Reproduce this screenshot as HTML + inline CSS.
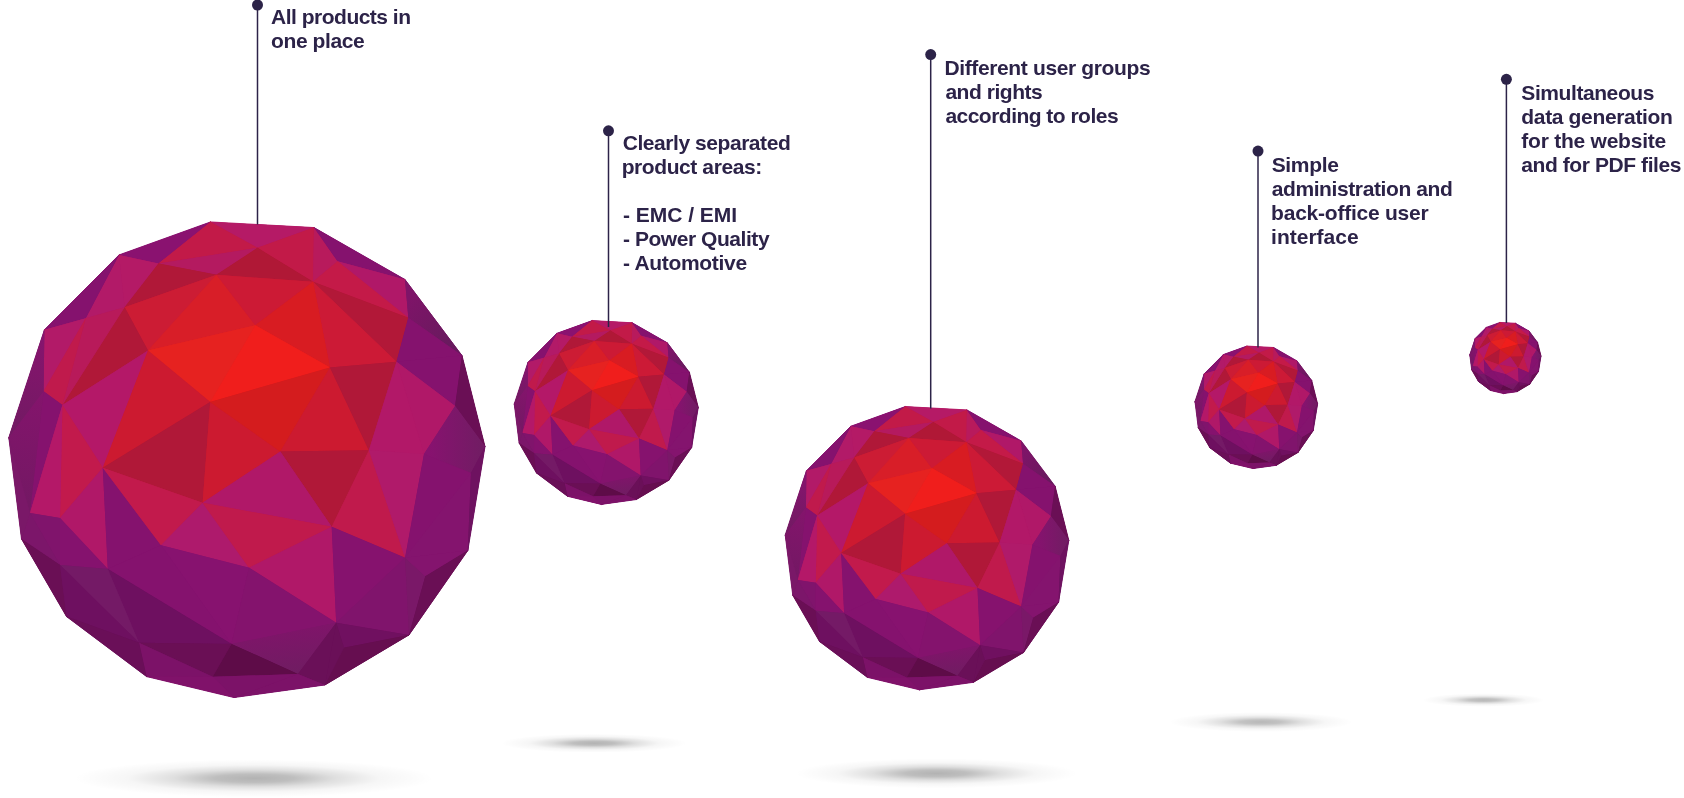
<!DOCTYPE html>
<html><head><meta charset="utf-8"><title>Features</title>
<style>
html,body{margin:0;padding:0;background:#fff;}
body{width:1684px;height:798px;overflow:hidden;position:relative;font-family:"Liberation Sans",sans-serif;}
svg{position:absolute;left:0;top:0;}
#txt{position:absolute;left:0;top:0;width:1684px;height:798px;will-change:transform;}
.t{position:absolute;color:#2c2348;font-weight:bold;font-size:21px;line-height:24px;white-space:nowrap;letter-spacing:0px;}
.t div{height:24px;}
</style></head><body>
<svg width="1684" height="798" viewBox="0 0 1684 798">
<defs>
<radialGradient id="sh" cx="0.5" cy="0.5" r="0.5">
<stop offset="0" stop-color="#000" stop-opacity="1"/>
<stop offset="0.22" stop-color="#000" stop-opacity="0.85"/>
<stop offset="0.45" stop-color="#000" stop-opacity="0.42"/>
<stop offset="0.7" stop-color="#000" stop-opacity="0.12"/>
<stop offset="1" stop-color="#000" stop-opacity="0"/>
</radialGradient>
<linearGradient id="g0" gradientUnits="userSpaceOnUse" x1="161.1" y1="-159.8" x2="208.1" y2="-119.8"><stop offset="0" stop-color="#7e1468"/><stop offset="1" stop-color="#681a5e"/></linearGradient>
<linearGradient id="g1" gradientUnits="userSpaceOnUse" x1="-202.9" y1="-124.8" x2="-231.9" y2="-19.8"><stop offset="0" stop-color="#87146e"/><stop offset="1" stop-color="#701a62"/></linearGradient>
<linearGradient id="g2" gradientUnits="userSpaceOnUse" x1="-202.9" y1="-64.8" x2="-231.9" y2="40.2"><stop offset="0" stop-color="#84146c"/><stop offset="1" stop-color="#741864"/></linearGradient>
<linearGradient id="g3" gradientUnits="userSpaceOnUse" x1="183.1" y1="-9.8" x2="233.1" y2="-9.8"><stop offset="0" stop-color="#87126f"/><stop offset="1" stop-color="#721c64"/></linearGradient>
<linearGradient id="g4" gradientUnits="userSpaceOnUse" x1="43.1" y1="165.2" x2="48.1" y2="212.2"><stop offset="0" stop-color="#80146a"/><stop offset="1" stop-color="#701c62"/></linearGradient>
<g id="ball" stroke-width="0.9" stroke-linejoin="round" vector-effect="non-scaling-stroke">
<polygon points="-36.4,-237.8 67.1,-232.2 158.1,-180.2 215.1,-104.2 238.1,-13.2 220.9,90.8 162.1,175.2 78.1,225.2 -12.9,237.8 -100.4,216.8 -180.4,156.8 -225.4,79.2 -238.1,-22.2 -202.5,-129.9 -127.9,-204.8" fill="#85126e"/>
<polygon points="-36.4,-237.8 67.1,-232.2 10.6,-211.9" fill="#b51a66" stroke="#b51a66" vector-effect="non-scaling-stroke"/>
<polygon points="-127.9,-204.8 -36.4,-237.8 -88.4,-196.2" fill="#8a1270" stroke="#8a1270" vector-effect="non-scaling-stroke"/>
<polygon points="-36.4,-237.8 10.6,-211.9 -88.4,-196.2" fill="#c21a48" stroke="#c21a48" vector-effect="non-scaling-stroke"/>
<polygon points="-88.4,-196.2 10.6,-211.9 -30.4,-184.9" fill="#b41a60" stroke="#b41a60" vector-effect="non-scaling-stroke"/>
<polygon points="10.6,-211.9 67.1,-232.2 66.1,-177.9" fill="#c21a48" stroke="#c21a48" vector-effect="non-scaling-stroke"/>
<polygon points="-30.4,-184.9 10.6,-211.9 66.1,-177.9" fill="#b01836" stroke="#b01836" vector-effect="non-scaling-stroke"/>
<polygon points="67.1,-232.2 90.7,-198.4 66.1,-177.9" fill="#b81a5c" stroke="#b81a5c" vector-effect="non-scaling-stroke"/>
<polygon points="67.1,-232.2 158.1,-180.2 90.7,-198.4" fill="#85126e" stroke="#85126e" vector-effect="non-scaling-stroke"/>
<polygon points="90.7,-198.4 158.1,-180.2 161.4,-141.9" fill="#b01868" stroke="#b01868" vector-effect="non-scaling-stroke"/>
<polygon points="90.7,-198.4 161.4,-141.9 66.1,-177.9" fill="#c41a48" stroke="#c41a48" vector-effect="non-scaling-stroke"/>
<polygon points="66.1,-177.9 161.4,-141.9 149.6,-98.1" fill="#b21838" stroke="#b21838" vector-effect="non-scaling-stroke"/>
<polygon points="66.1,-177.9 149.6,-98.1 83.1,-92.2" fill="#cc1a36" stroke="#cc1a36" vector-effect="non-scaling-stroke"/>
<polygon points="158.1,-180.2 215.1,-104.2 161.4,-141.9" fill="url(#g0)" stroke="#731763" vector-effect="non-scaling-stroke"/>
<polygon points="161.4,-141.9 215.1,-104.2 149.6,-98.1" fill="#85126e" stroke="#85126e" vector-effect="non-scaling-stroke"/>
<polygon points="149.6,-98.1 215.1,-104.2 208.2,-53.8" fill="#85126e" stroke="#85126e" vector-effect="non-scaling-stroke"/>
<polygon points="215.1,-104.2 238.1,-13.2 208.2,-53.8" fill="#6a0f55" stroke="#6a0f55" vector-effect="non-scaling-stroke"/>
<polygon points="-127.9,-204.8 -88.4,-196.2 -122.3,-152.4" fill="#b41a66" stroke="#b41a66" vector-effect="non-scaling-stroke"/>
<polygon points="-127.9,-204.8 -122.3,-152.4 -161.2,-141.6" fill="#b21a68" stroke="#b21a68" vector-effect="non-scaling-stroke"/>
<polygon points="-202.5,-129.9 -127.9,-204.8 -161.2,-141.6" fill="#85126e" stroke="#85126e" vector-effect="non-scaling-stroke"/>
<polygon points="-88.4,-196.2 -30.4,-184.9 -122.3,-152.4" fill="#b01838" stroke="#b01838" vector-effect="non-scaling-stroke"/>
<polygon points="-30.4,-184.9 -98.9,-109.2 -122.3,-152.4" fill="#cc1c34" stroke="#cc1c34" vector-effect="non-scaling-stroke"/>
<polygon points="-30.4,-184.9 8.4,-134.4 -98.9,-109.2" fill="#d81e28" stroke="#d81e28" vector-effect="non-scaling-stroke"/>
<polygon points="-30.4,-184.9 66.1,-177.9 8.4,-134.4" fill="#cc1a35" stroke="#cc1a35" vector-effect="non-scaling-stroke"/>
<polygon points="66.1,-177.9 83.1,-92.2 8.4,-134.4" fill="#d81c22" stroke="#d81c22" vector-effect="non-scaling-stroke"/>
<polygon points="8.4,-134.4 83.1,-92.2 -36.7,-57.8" fill="#f01e1c" stroke="#f01e1c" vector-effect="non-scaling-stroke"/>
<polygon points="-98.9,-109.2 8.4,-134.4 -36.7,-57.8" fill="#e62220" stroke="#e62220" vector-effect="non-scaling-stroke"/>
<polygon points="-122.3,-152.4 -98.9,-109.2 -184.5,-54.8" fill="#b01838" stroke="#b01838" vector-effect="non-scaling-stroke"/>
<polygon points="-161.2,-141.6 -122.3,-152.4 -184.5,-54.8" fill="#b81a5a" stroke="#b81a5a" vector-effect="non-scaling-stroke"/>
<polygon points="-202.5,-129.9 -161.2,-141.6 -203.3,-68.4" fill="#b21a68" stroke="#b21a68" vector-effect="non-scaling-stroke"/>
<polygon points="-161.2,-141.6 -184.5,-54.8 -203.3,-68.4" fill="#c01a4c" stroke="#c01a4c" vector-effect="non-scaling-stroke"/>
<polygon points="-202.5,-129.9 -203.3,-68.4 -238.1,-22.2" fill="url(#g1)" stroke="#7b1768" vector-effect="non-scaling-stroke"/>
<polygon points="-203.3,-68.4 -184.5,-54.8 -216.9,53.2" fill="#85126e" stroke="#85126e" vector-effect="non-scaling-stroke"/>
<polygon points="-203.3,-68.4 -216.9,53.2 -238.1,-22.2" fill="url(#g2)" stroke="#7c1668" vector-effect="non-scaling-stroke"/>
<polygon points="-184.5,-54.8 -98.9,-109.2 -144.1,8.1" fill="#b41868" stroke="#b41868" vector-effect="non-scaling-stroke"/>
<polygon points="-98.9,-109.2 -36.7,-57.8 -144.1,8.1" fill="#cc1a30" stroke="#cc1a30" vector-effect="non-scaling-stroke"/>
<polygon points="-144.1,8.1 -36.7,-57.8 -44.3,43.1" fill="#b01838" stroke="#b01838" vector-effect="non-scaling-stroke"/>
<polygon points="-36.7,-57.8 33.4,-8.2 -44.3,43.1" fill="#cc1a30" stroke="#cc1a30" vector-effect="non-scaling-stroke"/>
<polygon points="-36.7,-57.8 83.1,-92.2 33.4,-8.2" fill="#d41c1e" stroke="#d41c1e" vector-effect="non-scaling-stroke"/>
<polygon points="83.1,-92.2 122.0,-9.6 33.4,-8.2" fill="#cc1a30" stroke="#cc1a30" vector-effect="non-scaling-stroke"/>
<polygon points="83.1,-92.2 149.6,-98.1 122.0,-9.6" fill="#b01838" stroke="#b01838" vector-effect="non-scaling-stroke"/>
<polygon points="33.4,-8.2 122.0,-9.6 84.8,67.0" fill="#b01838" stroke="#b01838" vector-effect="non-scaling-stroke"/>
<polygon points="-44.3,43.1 33.4,-8.2 84.8,67.0" fill="#b01868" stroke="#b01868" vector-effect="non-scaling-stroke"/>
<polygon points="122.0,-9.6 158.2,97.9 84.8,67.0" fill="#c01a4c" stroke="#c01a4c" vector-effect="non-scaling-stroke"/>
<polygon points="149.6,-98.1 208.2,-53.8 177.1,-5.8" fill="#b01868" stroke="#b01868" vector-effect="non-scaling-stroke"/>
<polygon points="149.6,-98.1 177.1,-5.8 122.0,-9.6" fill="#b21868" stroke="#b21868" vector-effect="non-scaling-stroke"/>
<polygon points="122.0,-9.6 177.1,-5.8 158.2,97.9" fill="#b01a6a" stroke="#b01a6a" vector-effect="non-scaling-stroke"/>
<polygon points="208.2,-53.8 238.1,-13.2 224.1,13.2 177.1,-5.8" fill="url(#g3)" stroke="#7c1769" vector-effect="non-scaling-stroke"/>
<polygon points="177.1,-5.8 224.1,13.2 158.2,97.9" fill="#85126e" stroke="#85126e" vector-effect="non-scaling-stroke"/>
<polygon points="224.1,13.2 220.9,90.8 158.2,97.9" fill="#84146e" stroke="#84146e" vector-effect="non-scaling-stroke"/>
<polygon points="238.1,-13.2 220.9,90.8 224.1,13.2" fill="#6e1260" stroke="#6e1260" vector-effect="non-scaling-stroke"/>
<polygon points="-184.5,-54.8 -144.1,8.1 -186.9,58.2" fill="#c21a4c" stroke="#c21a4c" vector-effect="non-scaling-stroke"/>
<polygon points="-184.5,-54.8 -186.9,58.2 -216.9,53.2" fill="#b41868" stroke="#b41868" vector-effect="non-scaling-stroke"/>
<polygon points="-144.1,8.1 -139.1,109.2 -186.9,58.2" fill="#b01868" stroke="#b01868" vector-effect="non-scaling-stroke"/>
<polygon points="-144.1,8.1 -85.9,85.5 -139.1,109.2" fill="#85126e" stroke="#85126e" vector-effect="non-scaling-stroke"/>
<polygon points="-144.1,8.1 -44.3,43.1 -85.9,85.5" fill="#c21a4c" stroke="#c21a4c" vector-effect="non-scaling-stroke"/>
<polygon points="-44.3,43.1 2.1,107.9 -85.9,85.5" fill="#ae1a6c" stroke="#ae1a6c" vector-effect="non-scaling-stroke"/>
<polygon points="-44.3,43.1 84.8,67.0 2.1,107.9" fill="#c01a4c" stroke="#c01a4c" vector-effect="non-scaling-stroke"/>
<polygon points="2.1,107.9 84.8,67.0 89.3,163.0" fill="#b01868" stroke="#b01868" vector-effect="non-scaling-stroke"/>
<polygon points="84.8,67.0 158.2,97.9 89.3,163.0" fill="#86126e" stroke="#86126e" vector-effect="non-scaling-stroke"/>
<polygon points="158.2,97.9 162.1,175.2 89.3,163.0" fill="#80146c" stroke="#80146c" vector-effect="non-scaling-stroke"/>
<polygon points="158.2,97.9 178.4,116.6 162.1,175.2" fill="#7a1868" stroke="#7a1868" vector-effect="non-scaling-stroke"/>
<polygon points="158.2,97.9 220.9,90.8 178.4,116.6" fill="#84146e" stroke="#84146e" vector-effect="non-scaling-stroke"/>
<polygon points="178.4,116.6 220.9,90.8 162.1,175.2" fill="#6a0f55" stroke="#6a0f55" vector-effect="non-scaling-stroke"/>
<polygon points="89.3,163.0 162.1,175.2 97.0,188.0" fill="#701060" stroke="#701060" vector-effect="non-scaling-stroke"/>
<polygon points="97.0,188.0 162.1,175.2 78.1,225.2" fill="#660e50" stroke="#660e50" vector-effect="non-scaling-stroke"/>
<polygon points="89.3,163.0 97.0,188.0 78.1,225.2" fill="#6a1058" stroke="#6a1058" vector-effect="non-scaling-stroke"/>
<polygon points="-85.9,85.5 2.1,107.9 -15.4,184.2" fill="#87126f" stroke="#87126f" vector-effect="non-scaling-stroke"/>
<polygon points="2.1,107.9 89.3,163.0 -15.4,184.2" fill="#84136d" stroke="#84136d" vector-effect="non-scaling-stroke"/>
<polygon points="-15.4,184.2 89.3,163.0 51.0,214.2" fill="url(#g4)" stroke="#781866" vector-effect="non-scaling-stroke"/>
<polygon points="-15.4,184.2 51.0,214.2 -34.2,217.0" fill="#5e0c48" stroke="#5e0c48" vector-effect="non-scaling-stroke"/>
<polygon points="89.3,163.0 78.1,225.2 51.0,214.2" fill="#6a1058" stroke="#6a1058" vector-effect="non-scaling-stroke"/>
<polygon points="51.0,214.2 78.1,225.2 -12.9,237.8" fill="#7c1268" stroke="#7c1268" vector-effect="non-scaling-stroke"/>
<polygon points="-34.2,217.0 51.0,214.2 -12.9,237.8" fill="#7c1268" stroke="#7c1268" vector-effect="non-scaling-stroke"/>
<polygon points="-139.1,109.2 -85.9,85.5 -15.4,184.2" fill="#85126e" stroke="#85126e" vector-effect="non-scaling-stroke"/>
<polygon points="-139.1,109.2 -15.4,184.2 -107.9,183.0" fill="#6e1060" stroke="#6e1060" vector-effect="non-scaling-stroke"/>
<polygon points="-107.9,183.0 -15.4,184.2 -34.2,217.0" fill="#6a0f55" stroke="#6a0f55" vector-effect="non-scaling-stroke"/>
<polygon points="-107.9,183.0 -34.2,217.0 -100.4,216.8" fill="#7c1268" stroke="#7c1268" vector-effect="non-scaling-stroke"/>
<polygon points="-100.4,216.8 -34.2,217.0 -12.9,237.8" fill="#80126a" stroke="#80126a" vector-effect="non-scaling-stroke"/>
<polygon points="-216.9,53.2 -186.9,58.2 -186.9,105.2" fill="#80146c" stroke="#80146c" vector-effect="non-scaling-stroke"/>
<polygon points="-216.9,53.2 -186.9,105.2 -225.4,79.2" fill="#7c166a" stroke="#7c166a" vector-effect="non-scaling-stroke"/>
<polygon points="-238.1,-22.2 -216.9,53.2 -225.4,79.2" fill="#7a1868" stroke="#7a1868" vector-effect="non-scaling-stroke"/>
<polygon points="-186.9,58.2 -139.1,109.2 -186.9,105.2" fill="#85126e" stroke="#85126e" vector-effect="non-scaling-stroke"/>
<polygon points="-225.4,79.2 -186.9,105.2 -180.4,156.8" fill="#6a0f55" stroke="#6a0f55" vector-effect="non-scaling-stroke"/>
<polygon points="-186.9,105.2 -139.1,109.2 -107.9,183.0" fill="#741a66" stroke="#741a66" vector-effect="non-scaling-stroke"/>
<polygon points="-186.9,105.2 -107.9,183.0 -180.4,156.8" fill="#6e1060" stroke="#6e1060" vector-effect="non-scaling-stroke"/>
<polygon points="-180.4,156.8 -107.9,183.0 -100.4,216.8" fill="#6a0f58" stroke="#6a0f58" vector-effect="non-scaling-stroke"/>
<g stroke="none">
<polygon points="-36.4,-237.8 67.1,-232.2 10.6,-211.9" fill="#b51a66"/>
<polygon points="-127.9,-204.8 -36.4,-237.8 -88.4,-196.2" fill="#8a1270"/>
<polygon points="-36.4,-237.8 10.6,-211.9 -88.4,-196.2" fill="#c21a48"/>
<polygon points="-88.4,-196.2 10.6,-211.9 -30.4,-184.9" fill="#b41a60"/>
<polygon points="10.6,-211.9 67.1,-232.2 66.1,-177.9" fill="#c21a48"/>
<polygon points="-30.4,-184.9 10.6,-211.9 66.1,-177.9" fill="#b01836"/>
<polygon points="67.1,-232.2 90.7,-198.4 66.1,-177.9" fill="#b81a5c"/>
<polygon points="67.1,-232.2 158.1,-180.2 90.7,-198.4" fill="#85126e"/>
<polygon points="90.7,-198.4 158.1,-180.2 161.4,-141.9" fill="#b01868"/>
<polygon points="90.7,-198.4 161.4,-141.9 66.1,-177.9" fill="#c41a48"/>
<polygon points="66.1,-177.9 161.4,-141.9 149.6,-98.1" fill="#b21838"/>
<polygon points="66.1,-177.9 149.6,-98.1 83.1,-92.2" fill="#cc1a36"/>
<polygon points="158.1,-180.2 215.1,-104.2 161.4,-141.9" fill="url(#g0)"/>
<polygon points="161.4,-141.9 215.1,-104.2 149.6,-98.1" fill="#85126e"/>
<polygon points="149.6,-98.1 215.1,-104.2 208.2,-53.8" fill="#85126e"/>
<polygon points="215.1,-104.2 238.1,-13.2 208.2,-53.8" fill="#6a0f55"/>
<polygon points="-127.9,-204.8 -88.4,-196.2 -122.3,-152.4" fill="#b41a66"/>
<polygon points="-127.9,-204.8 -122.3,-152.4 -161.2,-141.6" fill="#b21a68"/>
<polygon points="-202.5,-129.9 -127.9,-204.8 -161.2,-141.6" fill="#85126e"/>
<polygon points="-88.4,-196.2 -30.4,-184.9 -122.3,-152.4" fill="#b01838"/>
<polygon points="-30.4,-184.9 -98.9,-109.2 -122.3,-152.4" fill="#cc1c34"/>
<polygon points="-30.4,-184.9 8.4,-134.4 -98.9,-109.2" fill="#d81e28"/>
<polygon points="-30.4,-184.9 66.1,-177.9 8.4,-134.4" fill="#cc1a35"/>
<polygon points="66.1,-177.9 83.1,-92.2 8.4,-134.4" fill="#d81c22"/>
<polygon points="8.4,-134.4 83.1,-92.2 -36.7,-57.8" fill="#f01e1c"/>
<polygon points="-98.9,-109.2 8.4,-134.4 -36.7,-57.8" fill="#e62220"/>
<polygon points="-122.3,-152.4 -98.9,-109.2 -184.5,-54.8" fill="#b01838"/>
<polygon points="-161.2,-141.6 -122.3,-152.4 -184.5,-54.8" fill="#b81a5a"/>
<polygon points="-202.5,-129.9 -161.2,-141.6 -203.3,-68.4" fill="#b21a68"/>
<polygon points="-161.2,-141.6 -184.5,-54.8 -203.3,-68.4" fill="#c01a4c"/>
<polygon points="-202.5,-129.9 -203.3,-68.4 -238.1,-22.2" fill="url(#g1)"/>
<polygon points="-203.3,-68.4 -184.5,-54.8 -216.9,53.2" fill="#85126e"/>
<polygon points="-203.3,-68.4 -216.9,53.2 -238.1,-22.2" fill="url(#g2)"/>
<polygon points="-184.5,-54.8 -98.9,-109.2 -144.1,8.1" fill="#b41868"/>
<polygon points="-98.9,-109.2 -36.7,-57.8 -144.1,8.1" fill="#cc1a30"/>
<polygon points="-144.1,8.1 -36.7,-57.8 -44.3,43.1" fill="#b01838"/>
<polygon points="-36.7,-57.8 33.4,-8.2 -44.3,43.1" fill="#cc1a30"/>
<polygon points="-36.7,-57.8 83.1,-92.2 33.4,-8.2" fill="#d41c1e"/>
<polygon points="83.1,-92.2 122.0,-9.6 33.4,-8.2" fill="#cc1a30"/>
<polygon points="83.1,-92.2 149.6,-98.1 122.0,-9.6" fill="#b01838"/>
<polygon points="33.4,-8.2 122.0,-9.6 84.8,67.0" fill="#b01838"/>
<polygon points="-44.3,43.1 33.4,-8.2 84.8,67.0" fill="#b01868"/>
<polygon points="122.0,-9.6 158.2,97.9 84.8,67.0" fill="#c01a4c"/>
<polygon points="149.6,-98.1 208.2,-53.8 177.1,-5.8" fill="#b01868"/>
<polygon points="149.6,-98.1 177.1,-5.8 122.0,-9.6" fill="#b21868"/>
<polygon points="122.0,-9.6 177.1,-5.8 158.2,97.9" fill="#b01a6a"/>
<polygon points="208.2,-53.8 238.1,-13.2 224.1,13.2 177.1,-5.8" fill="url(#g3)"/>
<polygon points="177.1,-5.8 224.1,13.2 158.2,97.9" fill="#85126e"/>
<polygon points="224.1,13.2 220.9,90.8 158.2,97.9" fill="#84146e"/>
<polygon points="238.1,-13.2 220.9,90.8 224.1,13.2" fill="#6e1260"/>
<polygon points="-184.5,-54.8 -144.1,8.1 -186.9,58.2" fill="#c21a4c"/>
<polygon points="-184.5,-54.8 -186.9,58.2 -216.9,53.2" fill="#b41868"/>
<polygon points="-144.1,8.1 -139.1,109.2 -186.9,58.2" fill="#b01868"/>
<polygon points="-144.1,8.1 -85.9,85.5 -139.1,109.2" fill="#85126e"/>
<polygon points="-144.1,8.1 -44.3,43.1 -85.9,85.5" fill="#c21a4c"/>
<polygon points="-44.3,43.1 2.1,107.9 -85.9,85.5" fill="#ae1a6c"/>
<polygon points="-44.3,43.1 84.8,67.0 2.1,107.9" fill="#c01a4c"/>
<polygon points="2.1,107.9 84.8,67.0 89.3,163.0" fill="#b01868"/>
<polygon points="84.8,67.0 158.2,97.9 89.3,163.0" fill="#86126e"/>
<polygon points="158.2,97.9 162.1,175.2 89.3,163.0" fill="#80146c"/>
<polygon points="158.2,97.9 178.4,116.6 162.1,175.2" fill="#7a1868"/>
<polygon points="158.2,97.9 220.9,90.8 178.4,116.6" fill="#84146e"/>
<polygon points="178.4,116.6 220.9,90.8 162.1,175.2" fill="#6a0f55"/>
<polygon points="89.3,163.0 162.1,175.2 97.0,188.0" fill="#701060"/>
<polygon points="97.0,188.0 162.1,175.2 78.1,225.2" fill="#660e50"/>
<polygon points="89.3,163.0 97.0,188.0 78.1,225.2" fill="#6a1058"/>
<polygon points="-85.9,85.5 2.1,107.9 -15.4,184.2" fill="#87126f"/>
<polygon points="2.1,107.9 89.3,163.0 -15.4,184.2" fill="#84136d"/>
<polygon points="-15.4,184.2 89.3,163.0 51.0,214.2" fill="url(#g4)"/>
<polygon points="-15.4,184.2 51.0,214.2 -34.2,217.0" fill="#5e0c48"/>
<polygon points="89.3,163.0 78.1,225.2 51.0,214.2" fill="#6a1058"/>
<polygon points="51.0,214.2 78.1,225.2 -12.9,237.8" fill="#7c1268"/>
<polygon points="-34.2,217.0 51.0,214.2 -12.9,237.8" fill="#7c1268"/>
<polygon points="-139.1,109.2 -85.9,85.5 -15.4,184.2" fill="#85126e"/>
<polygon points="-139.1,109.2 -15.4,184.2 -107.9,183.0" fill="#6e1060"/>
<polygon points="-107.9,183.0 -15.4,184.2 -34.2,217.0" fill="#6a0f55"/>
<polygon points="-107.9,183.0 -34.2,217.0 -100.4,216.8" fill="#7c1268"/>
<polygon points="-100.4,216.8 -34.2,217.0 -12.9,237.8" fill="#80126a"/>
<polygon points="-216.9,53.2 -186.9,58.2 -186.9,105.2" fill="#80146c"/>
<polygon points="-216.9,53.2 -186.9,105.2 -225.4,79.2" fill="#7c166a"/>
<polygon points="-238.1,-22.2 -216.9,53.2 -225.4,79.2" fill="#7a1868"/>
<polygon points="-186.9,58.2 -139.1,109.2 -186.9,105.2" fill="#85126e"/>
<polygon points="-225.4,79.2 -186.9,105.2 -180.4,156.8" fill="#6a0f55"/>
<polygon points="-186.9,105.2 -139.1,109.2 -107.9,183.0" fill="#741a66"/>
<polygon points="-186.9,105.2 -107.9,183.0 -180.4,156.8" fill="#6e1060"/>
<polygon points="-180.4,156.8 -107.9,183.0 -100.4,216.8" fill="#6a0f58"/>
</g></g>
</defs>
<ellipse cx="254" cy="778.3" rx="180" ry="19" fill="url(#sh)" opacity="0.3"/>
<ellipse cx="594" cy="743.2" rx="93" ry="9.5" fill="url(#sh)" opacity="0.3"/>
<ellipse cx="936.5" cy="773.4" rx="141" ry="15" fill="url(#sh)" opacity="0.3"/>
<ellipse cx="1261" cy="722" rx="92" ry="10" fill="url(#sh)" opacity="0.28"/>
<ellipse cx="1483.5" cy="700" rx="61" ry="6.8" fill="url(#sh)" opacity="0.28"/>
<use href="#ball" transform="translate(246.9 459.75) scale(1.0)"/>
<use href="#ball" transform="translate(606.25 412.5) scale(0.3864)"/>
<use href="#ball" transform="translate(927.0 548.2) scale(0.5955)"/>
<use href="#ball" transform="translate(1256.3 407.3) scale(0.2575)"/>
<use href="#ball" transform="translate(1505.4 358.0) scale(0.1495)"/>
<line x1="257.5" y1="5" x2="257.5" y2="224.5" stroke="#2c2348" stroke-width="1.5"/>
<circle cx="257.5" cy="5" r="5.5" fill="#2c2348"/>
<line x1="608.5" y1="130.8" x2="608.5" y2="327" stroke="#2c2348" stroke-width="1.5"/>
<circle cx="608.5" cy="130.8" r="5.5" fill="#2c2348"/>
<line x1="930.7" y1="54.6" x2="930.7" y2="408.5" stroke="#2c2348" stroke-width="1.5"/>
<circle cx="930.7" cy="54.6" r="5.5" fill="#2c2348"/>
<line x1="1258" y1="151.1" x2="1258" y2="347.5" stroke="#2c2348" stroke-width="1.5"/>
<circle cx="1258" cy="151.1" r="5.5" fill="#2c2348"/>
<line x1="1506.4" y1="79.3" x2="1506.4" y2="323" stroke="#2c2348" stroke-width="1.5"/>
<circle cx="1506.4" cy="79.3" r="5.5" fill="#2c2348"/>
</svg>
<div id="txt">
<div class="t" style="left:271.10px;top:4.85px;letter-spacing:-0.505px">All products in</div>
<div class="t" style="left:271.10px;top:28.70px;letter-spacing:-0.424px">one place</div>
<div class="t" style="left:622.70px;top:130.60px;letter-spacing:-0.442px">Clearly separated</div>
<div class="t" style="left:621.70px;top:154.60px;letter-spacing:-0.414px">product areas:</div>
<div class="t" style="left:623.00px;top:202.60px;letter-spacing:-0.030px">- EMC / EMI</div>
<div class="t" style="left:623.00px;top:226.60px;letter-spacing:-0.449px">- Power Quality</div>
<div class="t" style="left:623.00px;top:250.60px;letter-spacing:-0.313px">- Automotive</div>
<div class="t" style="left:944.40px;top:55.60px;letter-spacing:-0.362px">Different user groups</div>
<div class="t" style="left:945.40px;top:79.50px;letter-spacing:-0.458px">and rights</div>
<div class="t" style="left:945.40px;top:103.50px;letter-spacing:-0.521px">according to roles</div>
<div class="t" style="left:1271.70px;top:152.50px;letter-spacing:-0.335px">Simple</div>
<div class="t" style="left:1271.70px;top:176.60px;letter-spacing:-0.396px">administration and</div>
<div class="t" style="left:1271.10px;top:200.60px;letter-spacing:-0.232px">back-office user</div>
<div class="t" style="left:1271.10px;top:224.50px;letter-spacing:-0.007px">interface</div>
<div class="t" style="left:1521.30px;top:81.00px;letter-spacing:-0.419px">Simultaneous</div>
<div class="t" style="left:1521.30px;top:104.80px;letter-spacing:-0.338px">data generation</div>
<div class="t" style="left:1521.30px;top:128.80px;letter-spacing:-0.236px">for the website</div>
<div class="t" style="left:1521.30px;top:152.60px;letter-spacing:-0.417px">and for PDF files</div>
</div>
</body></html>
